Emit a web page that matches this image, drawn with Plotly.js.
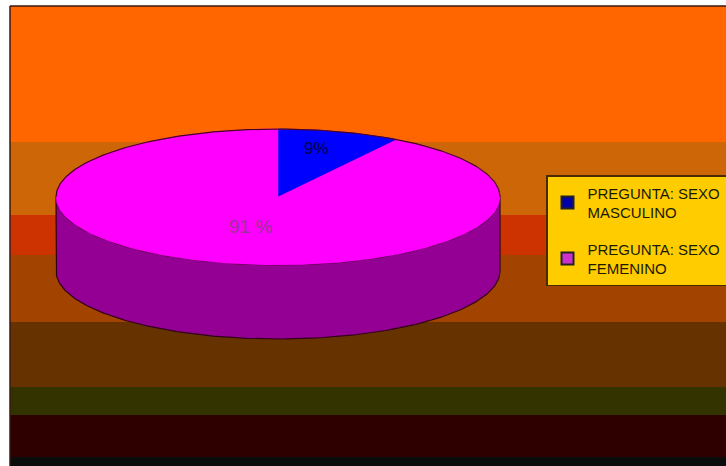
<!DOCTYPE html>
<html>
<head>
<meta charset="utf-8">
<script src="https://cdn.plot.ly/plotly-3.0.1.min.js"></script>
<style>html,body{margin:0;padding:0;background:#fff;overflow:hidden;width:726px;height:466px;}#chart{width:770px;height:466px;}</style>
</head>
<body>
<div id="chart"></div>
<script>
// ---- data ----
const categories = ["PREGUNTA: SEXO<br>MASCULINO", "PREGUNTA: SEXO<br>FEMENINO"];
const values = [9, 91];
const sliceLabels = ["9%", "91 %"];
const topColors = ["#0000FF", "#FF00FF"];
const sideColors = ["#000099", "#930093"];
const legendColors = ["#0000AA", "#CC33CC"];

// ---- geometry (style) ----
const cx = 278, cy = 197, rx = 222, ry = 68, depth = 74;
function pt(thetaDeg, dy) {
  const t = thetaDeg * Math.PI / 180;
  return [cx + rx * Math.sin(t), cy - ry * Math.cos(t) + (dy || 0)];
}

const total = values.reduce((a, b) => a + b, 0);
const traces = [];
const annotations = [];

let start = 0;
const slices = values.map((v, i) => {
  const s = start, e = start + 360 * v / total;
  start = e;
  return {i, s, e};
});

// side walls (visible front half)
slices.forEach(({i, s, e}) => {
  const a0 = Math.max(s, 90), a1 = Math.min(e, 270);
  if (a1 <= a0) return;
  const xs = [], ys = [];
  for (let a = a0; a <= a1 + 1e-9; a += 1) { const p = pt(a, 0); xs.push(p[0]); ys.push(p[1]); }
  for (let a = a1; a >= a0 - 1e-9; a -= 1) { const p = pt(a, depth); xs.push(p[0]); ys.push(p[1]); }
  xs.push(xs[0]); ys.push(ys[0]);
  traces.push({type: "scatter", mode: "lines", x: xs, y: ys, fill: "toself",
    fillcolor: sideColors[i], line: {color: "#33001a", width: 1.2},
    showlegend: false, hoverinfo: "skip"});
});

// top slices
slices.forEach(({i, s, e}) => {
  const xs = [cx], ys = [cy];
  const steps = Math.max(2, Math.ceil(e - s));
  for (let k = 0; k <= steps; k++) { const p = pt(s + (e - s) * k / steps, 0); xs.push(p[0]); ys.push(p[1]); }
  xs.push(cx); ys.push(cy);
  traces.push({type: "scatter", mode: "lines", x: xs, y: ys, fill: "toself",
    fillcolor: topColors[i], line: {color: topColors[i], width: 0.5},
    name: categories[i], showlegend: false, hoverinfo: "name"});
});

// back edge outline
(function () {
  const xs = [], ys = [];
  for (let a = -90; a <= 90; a += 1) { const p = pt(a, 0); xs.push(p[0]); ys.push(p[1]); }
  traces.push({type: "scatter", mode: "lines", x: xs, y: ys,
    line: {color: "#4d0026", width: 1.2}, showlegend: false, hoverinfo: "skip"});
})();

// legend entries (square keys)
categories.forEach((c, i) => {
  traces.push({type: "scatter", mode: "markers", x: [null], y: [null], name: c,
    legendgroup: "g" + i, showlegend: true,
    marker: {symbol: "square", size: 10, color: legendColors[i], line: {color: "#222", width: 1}}});
});

// labels
slices.forEach(({i, s, e}) => {
  const mid = (s + e) / 2;
  const r = i === 0 ? 0.62 : 0.45;
  const t = mid * Math.PI / 180;
  annotations.push({
    x: cx + rx * r * Math.sin(t), y: cy - ry * r * Math.cos(t) + (i === 0 ? -8 : 0),
    xref: "x", yref: "y", text: sliceLabels[i], showarrow: false,
    font: {family: "Liberation Sans, Arial, sans-serif", size: i === 0 ? 17 : 19,
      color: i === 0 ? "#000044" : "#993399"}
  });
});

// background bands
const bands = [
  [6, 142, "#FF6600"], [142, 215, "#CC6606"], [215, 255, "#CC3300"],
  [255, 322, "#A34300"], [322, 387, "#663300"], [387, 415, "#333300"],
  [415, 457, "#2E0000"], [457, 466, "#0A0C0C"]
];
const shapes = bands.map(b => ({type: "rect", xref: "x", yref: "y", layer: "below",
  x0: 10, x1: 726, y0: b[0], y1: b[1], fillcolor: b[2], line: {width: 0}}));
shapes.push({type: "line", xref: "x", yref: "y", x0: 10, x1: 726, y0: 6, y1: 6, line: {color: "#3a1a10", width: 1.5}, layer: "above"});
shapes.push({type: "line", xref: "x", yref: "y", x0: 10, x1: 10, y0: 6, y1: 466, line: {color: "#3a1a10", width: 1.5}, layer: "above"});

const layout = {
  width: 770, height: 466,
  margin: {l: 0, r: 44, t: 0, b: 0},
  paper_bgcolor: "#FFFFFF", plot_bgcolor: "rgba(0,0,0,0)",
  xaxis: {range: [0, 726], visible: false, fixedrange: true},
  yaxis: {range: [466, 0], visible: false, fixedrange: true},
  showlegend: true,
  legend: {
    x: 546 / 726, y: 1 - 175 / 466, xanchor: "left", yanchor: "top",
    bgcolor: "#FFCC00", bordercolor: "#4a2a00", borderwidth: 1.5,
    font: {family: "Liberation Sans, Arial, sans-serif", size: 15, color: "#1a1a00"},
    itemsizing: "constant", tracegroupgap: 14, traceorder: "grouped", itemwidth: 30
  },
  shapes: shapes,
  annotations: annotations
};

Plotly.newPlot("chart", traces, layout, {displayModeBar: false, staticPlot: true});
</script>
</body>
</html>
